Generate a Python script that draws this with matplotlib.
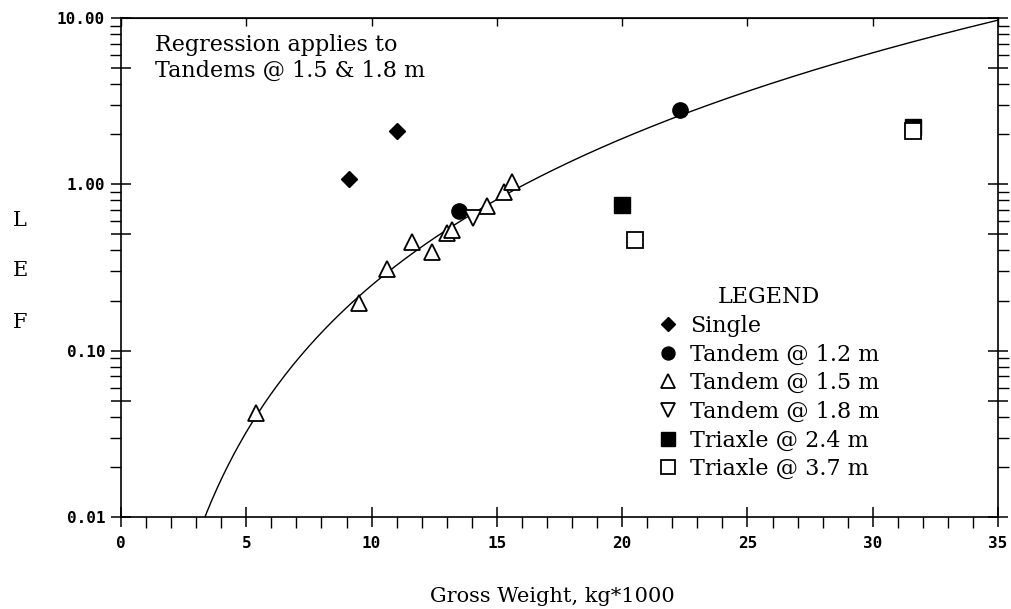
import numpy as np
import matplotlib.pyplot as plt

##########################
# Data
##########################

single_x = [9.1, 11.0]
single_y = [1.07, 2.1]

t12_x = [13.5, 22.3]
t12_y = [0.69, 2.8]

t15_x = [5.4, 9.5, 10.6, 11.6, 12.4, 13.0, 13.2, 14.6, 15.3, 15.6]
t15_y = [0.042, 0.194, 0.31, 0.45, 0.39, 0.51, 0.53, 0.74, 0.90, 1.03]

t18_x = [14.05]
t18_y = [0.63]

tri24_x = [20.0, 31.6]
tri24_y = [0.75, 2.2]

tri37_x = [20.5, 31.6]
tri37_y = [0.46, 2.1]

y_ticks = [0.01, 0.05, 0.1, 0.5, 1, 5, 10]
y_tick_labels = ['0.01', '', '0.10', '', '1.00', '', '10.00']
x_ticks = [0, 5, 10, 15, 20, 25, 30, 35]

##########################
# Regression (tandems @ 1.5 & 1.8 m, power law)
##########################

reg_x = np.array(t15_x + t18_x)
reg_y = np.array(t15_y + t18_y)
b, a = np.polyfit(np.log10(reg_x), np.log10(reg_y), 1)
xx = np.linspace(3.0, 35, 300)
yy = 10 ** (a + b * np.log10(xx))

##########################
# Figure
##########################

serif = 'DejaVu Serif'
mono = 'DejaVu Sans Mono'

fig = plt.figure(figsize=(10.11, 6.09), dpi=100)
ax = fig.add_axes([0.1197, 0.1511, 0.8675, 0.8194])

ax.plot(xx, yy, color='black', linewidth=1.0)

ax.plot(single_x, single_y, linestyle='none', marker='D', color='black',
        markersize=8, label='Single')
ax.plot(t12_x, t12_y, linestyle='none', marker='o', color='black',
        markersize=11, label='Tandem @ 1.2 m')
ax.plot(t15_x, t15_y, linestyle='none', marker='^', color='black',
        markerfacecolor='white', markeredgewidth=1.3, markersize=12,
        label='Tandem @ 1.5 m')
ax.plot(t18_x, t18_y, linestyle='none', marker='v', color='black',
        markerfacecolor='white', markeredgewidth=1.3, markersize=12,
        label='Tandem @ 1.8 m')
ax.plot(tri24_x, tri24_y, linestyle='none', marker='s', color='black',
        markersize=12, label='Triaxle @ 2.4 m')
ax.plot(tri37_x, tri37_y, linestyle='none', marker='s', color='black',
        markerfacecolor='white', markeredgewidth=1.3, markersize=12,
        label='Triaxle @ 3.7 m')

ax.set_yscale('log')
ax.set_xlim(0, 35)
ax.set_ylim(0.01, 10)

ax.set_yticks(y_ticks)
ax.set_yticklabels(y_tick_labels)
minor_y = [m * 10.0 ** e for e in range(-2, 1) for m in (2, 3, 4, 6, 7, 8, 9)]
ax.set_yticks(minor_y, minor=True)
ax.yaxis.set_minor_formatter(plt.NullFormatter())
ax.set_xticks(x_ticks)
ax.set_xticks(np.arange(0, 36, 1), minor=True)

for lab in ax.get_xticklabels() + ax.get_yticklabels():
    lab.set_fontfamily(mono)
    lab.set_fontweight('bold')
    lab.set_fontsize(11.5)

ax.tick_params(axis='both', which='major', direction='inout', length=15,
               width=1.1, pad=4)
ax.tick_params(axis='both', which='minor', direction='out', length=8,
               width=1.0)
ax.tick_params(axis='y', which='both', right=True)
ax.tick_params(axis='x', which='both', top=False)
ax.tick_params(axis='x', which='major', pad=6)

top = ax.secondary_xaxis('top')
top.set_xticks(x_ticks)
top.set_xticklabels([])
top.tick_params(direction='in', length=6, width=1.0)
top.xaxis.set_minor_locator(plt.NullLocator())

for sp in ax.spines.values():
    sp.set_linewidth(1.2)

# stacked y label
fig.text(20 / 1011, 1 - 220 / 609, 'L', fontfamily=serif, fontsize=15,
         ha='center', va='center')
fig.text(20 / 1011, 1 - 270 / 609, 'E', fontfamily=serif, fontsize=15,
         ha='center', va='center')
fig.text(20 / 1011, 1 - 322 / 609, 'F', fontfamily=serif, fontsize=15,
         ha='center', va='center')

fig.text(552 / 1011, 1 - 596 / 609, 'Gross Weight, kg*1000',
         fontfamily=serif, fontsize=15, ha='center', va='center')

ax.text(155 / 1011, 1 - 58 / 609, 'Regression applies to\nTandems @ 1.5 & 1.8 m',
        transform=fig.transFigure, fontfamily=serif, fontsize=16,
        ha='left', va='center', linespacing=1.25)

lgd = ax.legend(loc='upper left', bbox_to_anchor=(648 / 1011, 1 - 275 / 609),
                bbox_transform=fig.transFigure, frameon=False,
                title='LEGEND', numpoints=1, handlelength=0.8,
                handletextpad=0.6, labelspacing=0.3, borderpad=0,
                markerscale=0.85,
                prop={'family': serif, 'size': 16},
                title_fontproperties={'family': serif, 'size': 16})

plt.savefig('out.png', dpi=100)
